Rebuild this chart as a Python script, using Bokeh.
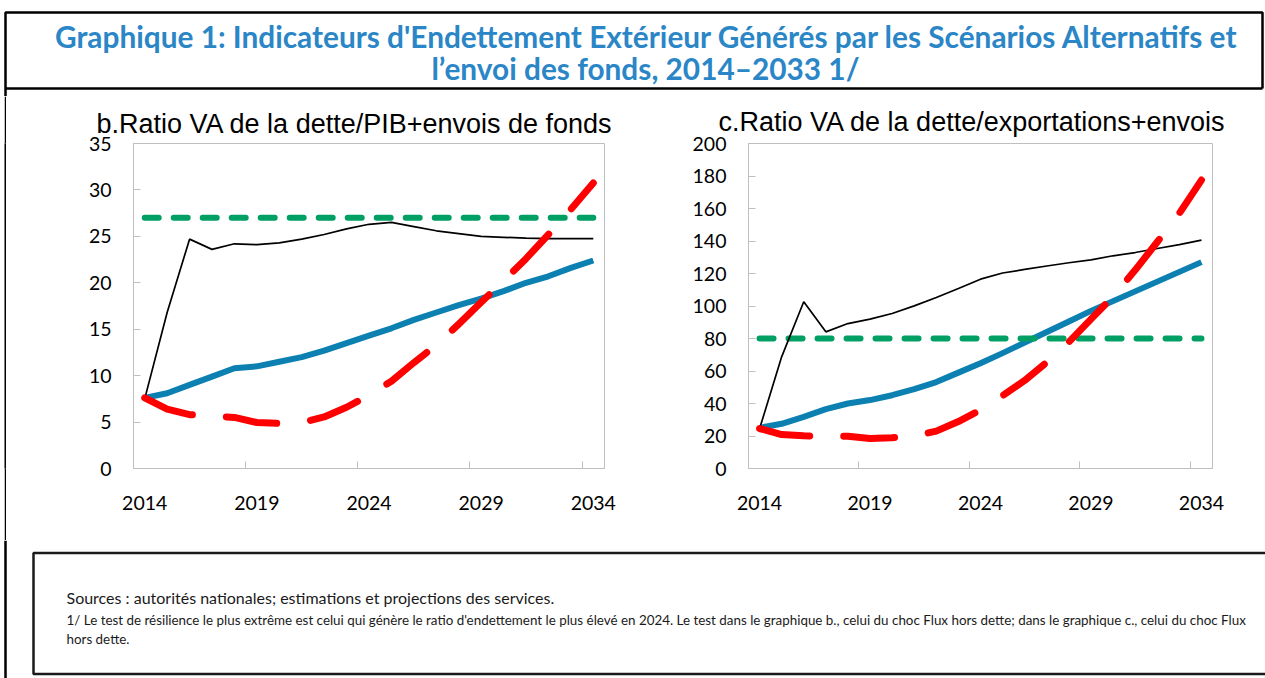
from bokeh.plotting import figure
from bokeh.layouts import column, row
from bokeh.models import Range1d, FixedTicker, Label
from bokeh.embed import file_html
from bokeh.resources import INLINE

# ---------------- data ----------------
years = [2014, 2015, 2016, 2017, 2018, 2019, 2020, 2021, 2022, 2023, 2024,
         2025, 2026, 2027, 2028, 2029, 2030, 2031, 2032, 2033, 2034]
x_tick_labels = [2014, 2019, 2024, 2029, 2034]
x_boundaries = [2013.5, 2018.5, 2023.5, 2028.5, 2033.5]

# b. Ratio VA de la dette / PIB + envois de fonds
b_baseline = [7.5, 16.8, 24.7, 23.6, 24.2, 24.1, 24.3, 24.7, 25.2, 25.8, 26.3,
              26.5, 26.05, 25.6, 25.3, 25.0, 24.9, 24.8, 24.75, 24.75, 24.75]
b_historical = [7.6, 8.1, 9.0, 9.9, 10.8, 11.0, 11.5, 12.0, 12.7, 13.5, 14.3,
                15.1, 16.0, 16.8, 17.6, 18.3, 19.1, 20.0, 20.7, 21.6, 22.4]
b_shock = [7.6, 6.4, 5.8, 5.65, 5.5, 4.95, 4.85, 4.95, 5.55, 6.6, 7.9,
           9.4, 11.4, 13.3, 15.55, 17.9, 20.2, 22.6, 25.2, 27.9, 30.75]
b_threshold = [27, 27, 27, 27, 27, 27, 27, 27, 27, 27, 27,
               27, 27, 27, 27, 27, 27, 27, 27, 27, 27]
b_yticks = [0, 5, 10, 15, 20, 25, 30, 35]

# c. Ratio VA de la dette / exportations + envois
c_baseline = [24.4, 68.7, 102.6, 84.1, 89.2, 91.9, 95.4, 100.1, 105.2, 110.8, 116.5,
              120.3, 122.5, 124.6, 126.6, 128.4, 130.9, 132.9, 135.4, 137.8, 140.5]
c_historical = [25.0, 27.5, 31.8, 36.5, 40.0, 42.1, 45.1, 48.8, 53.2, 59.0, 64.8,
                71.0, 77.5, 84.0, 90.5, 97.0, 103.0, 109.0, 115.0, 121.0, 127.0]
c_shock = [24.6, 20.9, 20.1, 20.0, 19.9, 18.5, 18.9, 20.0, 23.0, 28.9, 36.0,
           44.8, 54.2, 65.4, 77.9, 91.9, 105.9, 122.1, 139.4, 157.0, 177.5]
c_threshold = [80, 80, 80, 80, 80, 80, 80, 80, 80, 80, 80,
               80, 80, 80, 80, 80, 80, 80, 80, 80, 80]
c_yticks = [0, 20, 40, 60, 80, 100, 120, 140, 160, 180, 200]

main_title_1 = "Graphique 1: Indicateurs d'Endettement Extérieur Générés par  les Scénarios Alternatifs et"
main_title_2 = "l’envoi des fonds, 2014–2033 1/"
title_b = "b.Ratio VA de la dette/PIB+envois de fonds"
title_c = "c.Ratio VA de la dette/exportations+envois"
note_sources = "Sources : autorités nationales; estimations et projections des services."
note_1 = ("1/ Le test de résilience le plus extrême est celui qui génère le ratio d'endettement le plus élevé en 2024. "
          "Le test dans le graphique b., celui du choc Flux hors dette; dans le graphique c., celui du choc Flux")
note_2 = "hors dette."

# ---------------- styles ----------------
TITLE_BLUE = "#2A86C6"
BLUE = "#0B80B1"
RED = "#FF0000"
GREEN = "#00A064"
GREY = "#BFBFBF"
TICK_FONT = "Lato"
CHART_TITLE_FONT = "Liberation Sans"


def deco_fig(w, h, fill="white"):
    f = figure(width=w, height=h, x_range=Range1d(0, w), y_range=Range1d(0, h),
               output_backend="svg", toolbar_location=None,
               x_axis_type=None, y_axis_type=None, min_border=0)
    f.outline_line_color = None
    f.grid.visible = False
    f.background_fill_color = fill
    f.border_fill_color = fill
    return f


def chart(width, height, yr, yticks, mbl, mbr, mbt, mbb, title, title_offset, title_standoff,
          hist, base, thr, shock):
    p = figure(width=width, height=height, x_range=Range1d(2013.5, 2034.5), y_range=Range1d(*yr),
               output_backend="svg", toolbar_location=None,
               min_border_left=mbl, min_border_right=mbr, min_border_top=mbt, min_border_bottom=mbb)
    p.grid.visible = False
    p.outline_line_color = GREY
    p.outline_line_width = 1
    p.background_fill_color = "white"
    p.border_fill_color = "white"

    p.title.text = title
    p.title.text_font = CHART_TITLE_FONT
    p.title.text_font_size = "27px"
    p.title.text_font_style = "normal"
    p.title.text_color = "black"
    p.title.align = "left"
    p.title.offset = title_offset
    p.title.standoff = title_standoff

    xa = p.xaxis[0]
    xa.ticker = FixedTicker(ticks=x_tick_labels, minor_ticks=x_boundaries)
    xa.major_tick_line_color = None
    xa.minor_tick_in = 7
    xa.minor_tick_out = 0
    xa.minor_tick_line_color = GREY
    xa.axis_line_color = GREY
    xa.major_label_standoff = 21
    xa.major_label_text_font = TICK_FONT
    xa.major_label_text_font_size = "19.5px"
    xa.major_label_text_color = "black"

    ya = p.yaxis[0]
    ya.ticker = FixedTicker(ticks=yticks)
    ya.major_tick_in = 7
    ya.major_tick_out = 0
    ya.major_tick_line_color = GREY
    ya.minor_tick_line_color = None
    ya.axis_line_color = GREY
    ya.major_label_standoff = 22
    ya.major_label_text_font = TICK_FONT
    ya.major_label_text_font_size = "19.5px"
    ya.major_label_text_color = "black"

    p.line(years, hist, line_color=BLUE, line_width=6, line_join="round")
    p.line(years, thr, line_color=GREEN, line_width=6, line_dash="14 15", line_cap="round")
    p.line(years, base, line_color="black", line_width=1.7)
    p.line(years, shock, line_color=RED, line_width=7, line_dash="51 34", line_cap="round",
           line_join="round")
    return p


W = 1265

# ---------------- title block (page y 0..96) ----------------
top = deco_fig(W, 96)
top.line([5, 5, 1262, 1262], [0, 84, 84, 8], line_color="black", line_width=2.5)
top.line([5, 1262], [8, 8], line_color="black", line_width=2.5)
top.add_layout(Label(x=650, y=60, text=main_title_1, text_align="center", text_baseline="alphabetic",
                     text_font="Lato", text_font_style="bold", text_font_size="29.8px",
                     text_color=TITLE_BLUE))
top.add_layout(Label(x=645, y=28, text=main_title_2, text_align="center", text_baseline="alphabetic",
                     text_font="Lato", text_font_style="bold", text_font_size="29.8px",
                     text_color=TITLE_BLUE))

# ---------------- charts row (page y 96..540) ----------------
gap = deco_fig(4, 444)
strip = deco_fig(2, 444, fill="black")   # outer left border of the panel

pb = chart(670, 444, (0, 35), b_yticks, 127, 72, 44, 70, title_b, -37, 10,
           b_historical, b_baseline, b_threshold, b_shock)
pc = chart(589, 444, (0, 200), c_yticks, 72, 53, 47, 72, title_c, -30, 14,
           c_historical, c_baseline, c_threshold, c_shock)

# ---------------- notes block (page y 540..678) ----------------
bot = deco_fig(W, 138)
bot.line([5, 5], [0, 138], line_color="black", line_width=2.5)
bot.line([W + 20, 33, 33, W + 20], [125.5, 125.5, 4.5, 4.5], line_color="#1A1A1A", line_width=2.5)
bot.add_layout(Label(x=66, y=81, text=note_sources, text_baseline="alphabetic",
                     text_font="Lato", text_font_size="16px", text_color="#1A1A1A"))
bot.add_layout(Label(x=66, y=59, text=note_1, text_baseline="alphabetic",
                     text_font="Lato", text_font_size="13.4px", text_color="#1A1A1A"))
bot.add_layout(Label(x=66, y=40, text=note_2, text_baseline="alphabetic",
                     text_font="Lato", text_font_size="13.4px", text_color="#1A1A1A"))

layout = column(top, row(gap, strip, pb, pc, spacing=0), bot, spacing=0)

open("out.html", "w").write(file_html(layout, INLINE))
